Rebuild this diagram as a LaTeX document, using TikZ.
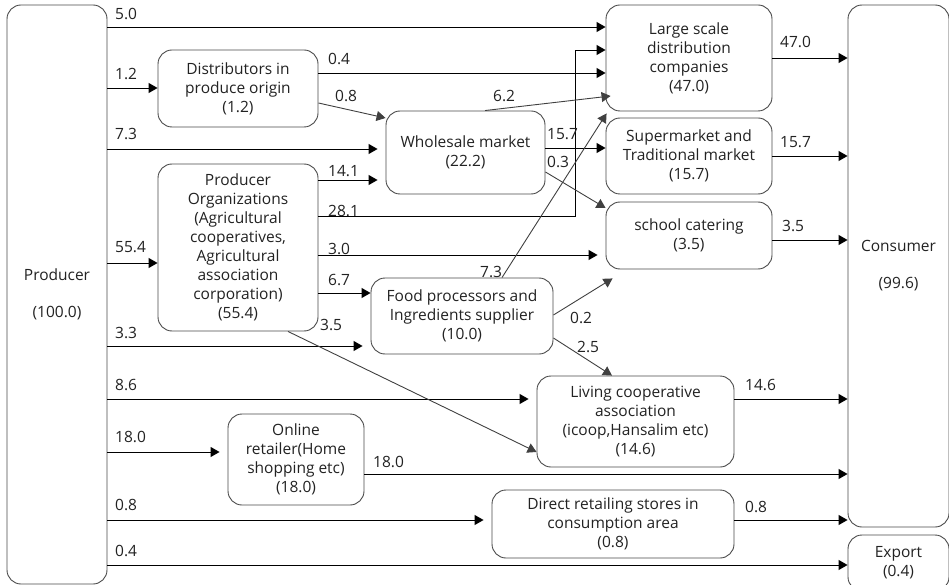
\documentclass[tikz,border=0pt]{standalone}
\usepackage{fontspec}
\setmainfont{Open Sans}
\usetikzlibrary{arrows.meta,calc}
\definecolor{boxgray}{HTML}{4A4A4A}
\definecolor{txt}{HTML}{222222}
\begin{document}
\begin{tikzpicture}[x=1pt,y=-1pt,
  font=\fontsize{15.5}{19}\selectfont, text=txt,
  box/.style={draw=boxgray, line width=0.9pt, rounded corners=14pt, align=center, inner sep=0pt},
  arr/.style={draw=black, line width=0.9pt, -{Triangle[length=9pt,width=10pt]}},
  darr/.style={arr, draw=black!75},
  gap/.style={shorten >=8pt},
  lab/.style={anchor=base west, inner sep=0pt}]
\useasboundingbox (0,0) rectangle (949,585);
% nodes
\node[box, minimum width=100pt, minimum height=579pt] (producer) at (57,294.5) {Producer\\[18pt](100.0)};
\node[box, minimum width=101pt, minimum height=522pt] (consumer) at (898.5,266) {Consumer\\[18pt](99.6)};
\node[box, minimum width=101pt, minimum height=56pt] (export) at (898.5,563) {Export\\(0.4)};
\node[box, minimum width=160pt, minimum height=77pt] (distrib) at (238,88.5) {Distributors in\\produce origin\\(1.2)};
\node[box, minimum width=159pt, minimum height=83pt] (wholesale) at (465.5,152.5) {Wholesale market\\(22.2)};
\node[box, minimum width=160pt, minimum height=167pt] (prodorg) at (238,247.5) {Producer\\Organizations\\(Agricultural\\cooperatives,\\Agricultural\\association\\corporation)\\(55.4)};
\node[box, minimum width=166pt, minimum height=106pt] (large) at (689,58) {Large scale\\distribution\\companies\\(47.0)};
\node[box, minimum width=166pt, minimum height=76pt] (super) at (689,156) {Supermarket and\\Traditional market\\(15.7)};
\node[box, minimum width=166pt, minimum height=67pt] (school) at (689,235.5) {school catering\\(3.5)};
\node[box, minimum width=182pt, minimum height=76pt] (food) at (462,316) {Food processors and\\Ingredients supplier\\(10.0)};
\node[box, minimum width=197pt, minimum height=91pt] (living) at (635.5,421.5) {Living cooperative\\association\\(icoop,Hansalim etc)\\(14.6)};
\node[box, minimum width=136pt, minimum height=91pt] (online) at (296,459.5) {Online\\retailer(Home\\shopping etc)\\(18.0)};
\node[box, minimum width=242pt, minimum height=68pt] (direct) at (613,524) {Direct retailing stores in\\consumption area\\(0.8)};
\coordinate (bend) at (575,50);
% producer outputs
\draw[arr] (producer.east |- 0,27) -- (large.west |- 0,27);
\draw[arr] (producer.east |- 0,88) -- (distrib.west |- 0,88);
\draw[arr,gap] (producer.east |- 0,149) -- (wholesale.west |- 0,149);
\draw[arr] (producer.east |- 0,263) -- (prodorg.west |- 0,263);
\draw[arr,gap] (producer.east |- 0,346) -- (food.west |- 0,346);
\draw[arr,gap] (producer.east |- 0,399) -- (living.west |- 0,399);
\draw[arr,gap] (producer.east |- 0,452) -- (online.west |- 0,452);
\draw[arr,gap] (producer.east |- 0,520) -- (direct.west |- 0,520);
\draw[arr] (producer.east |- 0,565) -- (export.west |- 0,565);
% distributors
\draw[arr] (distrib.east |- 0,73) -- (large.west |- 0,73);
\draw[darr] (distrib.east |- 0,103) -- (wholesale.west |- 0,118);
% producer organizations
\draw[arr,gap] (prodorg.east |- 0,180) -- (wholesale.west |- 0,180);
\draw[arr] (prodorg.east |- 0,216) -| (bend) -- (large.west |- bend);
\draw[arr,gap] (prodorg.east |- 0,255) -- (school.west |- 0,255);
\draw[arr] (prodorg.east |- 0,293) -- (food.west |- 0,293);
\draw[darr] (288,0 |- prodorg.south) -- (living.west |- 0,452);
% wholesale
\draw[darr] (485,0 |- wholesale.north) -- ($(large.west |- 0,96)+(5,0)$);
\draw[arr] (wholesale.east |- 0,148) -- (super.west |- 0,148);
\draw[darr] (wholesale.east |- 0,172) -- (school.west |- 0,208);
% food processors
\draw[darr] (502,0 |- food.north) -- ($(large.south west)+(1,2)$);
\draw[darr] (food.east |- 0,315) -- ($(school.south west)+(7,9)$);
\draw[darr] (food.east |- 0,338) -- (612,0 |- living.north);
% to consumer
\draw[arr] (large.east |- 0,58) -- (consumer.west |- 0,58);
\draw[arr] (super.east |- 0,156) -- (consumer.west |- 0,156);
\draw[arr] (school.east |- 0,240) -- (consumer.west |- 0,240);
\draw[arr] (living.east |- 0,399) -- (consumer.west |- 0,399);
\draw[arr] (online.east |- 0,474) -- (consumer.west |- 0,474);
\draw[arr] (direct.east |- 0,520) -- (consumer.west |- 0,520);
% labels
\node[lab] (l1) at (115,20) {5.0};
\node[lab] (l2) at (115,80) {1.2};
\node[lab] (l3) at (115,140) {7.3};
\node[lab] (l4) at (115,252) {55.4};
\node[lab] (l5) at (115,338) {3.3};
\node[lab] (l6) at (115,390) {8.6};
\node[lab] (l7) at (115,442) {18.0};
\node[lab] (l8) at (115,510) {0.8};
\node[lab] (l9) at (115,556) {0.4};
\node[lab] (l10) at (328,65) {0.4};
\node[lab] (l11) at (335,102) {0.8};
\node[lab] (l12) at (493,102) {6.2};
\node[lab] (l13) at (547,140) {15.7};
\node[lab] (l14) at (547,168) {0.3};
\node[lab] (l15) at (328,177) {14.1};
\node[lab] (l16) at (328,216) {28.1};
\node[lab] (l17) at (328,254) {3.0};
\node[lab] (l18) at (328,285) {6.7};
\node[lab] (l19) at (480,277) {7.3};
\node[lab] (l20) at (320,330) {3.5};
\node[lab] (l21) at (570,323) {0.2};
\node[lab] (l22) at (577,352) {2.5};
\node[lab] (l23) at (780,48) {47.0};
\node[lab] (l24) at (780,148) {15.7};
\node[lab] (l25) at (782,232) {3.5};
\node[lab] (l26) at (745,390) {14.6};
\node[lab] (l27) at (373,467) {18.0};
\node[lab] (l28) at (745,512) {0.8};
\end{tikzpicture}
\end{document}
